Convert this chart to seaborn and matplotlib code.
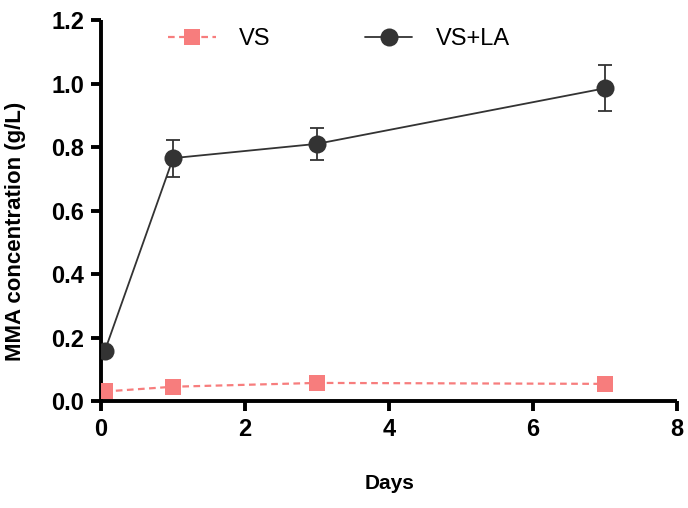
import matplotlib
matplotlib.use("Agg")
import matplotlib.pyplot as plt
import seaborn as sns
import pandas as pd

days = [0.05, 1, 3, 7]
vs = [0.030, 0.045, 0.057, 0.054]
vs_la = [0.157, 0.765, 0.810, 0.985]
vs_la_err = [0.0, 0.058, 0.051, 0.072]

sns.set_style("ticks")
plt.rcParams['font.family'] = ['Liberation Sans', 'DejaVu Sans']
plt.rcParams['text.color'] = 'black'
plt.rcParams['axes.labelcolor'] = 'black'
plt.rcParams['xtick.color'] = 'black'
plt.rcParams['ytick.color'] = 'black'

fig = plt.figure(figsize=(6.88, 5.08), dpi=100)
ax = fig.add_axes([0.147, 0.2106, 0.837, 0.75])

pink = "#F77D7D"
dark = "#333333"

df = pd.DataFrame({
    "Days": days * 2,
    "val": vs + vs_la,
    "grp": ["VS"] * 4 + ["VS+LA"] * 4,
})

ax.errorbar(days, vs_la, yerr=vs_la_err, fmt="none", ecolor=dark,
            elinewidth=1.3, capsize=5, capthick=1.3, zorder=2)

sns.lineplot(data=df[df.grp == "VS"], x="Days", y="val", ax=ax,
             color=pink, linestyle=(0, (3, 2)), linewidth=1.6,
             marker="s", markersize=12, markeredgewidth=0,
             label="VS", zorder=3)
sns.lineplot(data=df[df.grp == "VS+LA"], x="Days", y="val", ax=ax,
             color=dark, linewidth=1.3,
             marker="o", markersize=13, markeredgewidth=0,
             label="VS+LA", zorder=4)

ax.set_xlim(0, 8)
ax.set_ylim(0, 1.2)
ax.set_xticks([0, 2, 4, 6, 8])
ax.set_yticks([0.0, 0.2, 0.4, 0.6, 0.8, 1.0, 1.2])
ax.set_yticklabels(["0.0", "0.2", "0.4", "0.6", "0.8", "1.0", "1.2"])

for s in ["top", "right"]:
    ax.spines[s].set_visible(False)
for s in ["left", "bottom"]:
    ax.spines[s].set_linewidth(2.8)
    ax.spines[s].set_color("black")
    ax.spines[s].set_capstyle("butt")

ax.tick_params(axis="both", length=7, width=2.8, color="black",
               labelcolor="black", labelsize=17, pad=5)
for lab in ax.get_xticklabels() + ax.get_yticklabels():
    lab.set_fontweight("bold")

ax.set_xlabel("Days", fontsize=15, fontweight="bold", labelpad=24, color="black")
ax.set_ylabel("MMA concentration (g/L)", fontsize=16, fontweight="bold",
              color="black")
ax.yaxis.set_label_coords(-0.13, 0.445)

leg = ax.legend(loc="upper left", bbox_to_anchor=(0.08, 1.035), ncol=2,
                frameon=False, fontsize=17, handlelength=2.0,
                columnspacing=4.0, handletextpad=1.0)

fig.savefig("out.png", dpi=100)
